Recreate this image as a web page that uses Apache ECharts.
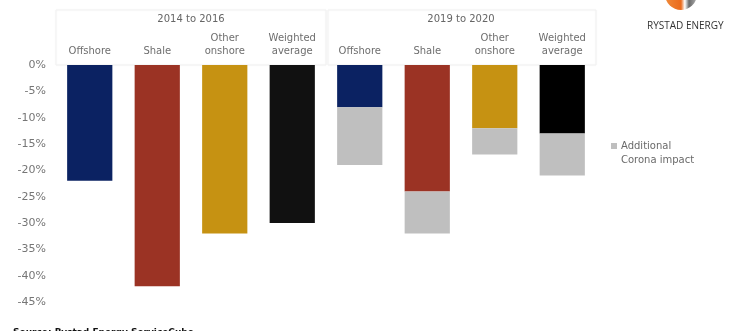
<!DOCTYPE html>
<html>
<head>
<meta charset="utf-8">
<script src="https://cdn.jsdelivr.net/npm/echarts@6/dist/echarts.min.js"></script>
<style>
  html, body { margin: 0; padding: 0; background: #fff; }
  #chart { width: 735px; height: 331px; }
</style>
</head>
<body>
<div id="chart"></div>
<script>
// Segment categories, two per period
const categories = ['Offshore', 'Shale', 'Other\nonshore', 'Weighted\naverage',
                    'Offshore', 'Shale', 'Other\nonshore', 'Weighted\naverage'];
const periods = ['2014 to 2016', '2019 to 2020'];

// Change in capex (%) before the pandemic effect
const baseChange = [-22, -42, -32, -30, -8, -24, -12, -13];
// Extra decline attributed to Corona (only for 2019-2020)
const coronaChange = [null, null, null, null, -11, -8, -5, -8];

const segmentColors = ['#0b2262', '#9b3324', '#c69212', '#111111',
                       '#0b2262', '#9b3324', '#c69212', '#000000'];
const coronaColor = '#bfbfbf';
const yTicks = { min: -45, max: 0, interval: 5 };

const font = 'DejaVu Sans, Verdana, sans-serif';
const chart = echarts.init(document.getElementById('chart'));

chart.setOption({
  animation: false,
  grid: { left: 56, right: 139, top: 65, bottom: 29 },
  legend: {
    data: ['Additional\nCorona impact'],
    left: 606, top: 134,
    // square sits at the top of a taller icon box so it lines up with the first text line
    icon: 'path://M0,0L6,0L6,6L0,6Z M0,20L6,20',
    itemWidth: 6, itemHeight: 20, itemGap: 0,
    textStyle: { color: '#6a6a6a', fontFamily: font, fontSize: 10, lineHeight: 14, padding: [0, 0, 0, -1] }
  },
  xAxis: [
    {
      type: 'category', data: categories, position: 'top',
      axisLine: { show: false }, axisTick: { show: false },
      axisLabel: { color: '#6e6e6e', fontFamily: font, fontSize: 10, lineHeight: 13, margin: 7, interval: 0 }
    },
    {
      type: 'category', data: periods, position: 'top', offset: 32,
      axisLine: { show: false }, axisTick: { show: false },
      axisLabel: { color: '#666666', fontFamily: font, fontSize: 10, margin: 9 }
    }
  ],
  yAxis: {
    type: 'value', min: yTicks.min, max: yTicks.max, interval: yTicks.interval,
    splitLine: { show: false }, axisLine: { show: false }, axisTick: { show: false },
    axisLabel: { color: '#767676', fontFamily: font, fontSize: 11, margin: 10, formatter: '{value}%' }
  },
  graphic: [
    { type: 'rect', z: -10, shape: { x: 56, y: 10, width: 270, height: 55 },
      style: { fill: '#ffffff', stroke: '#f1f1f1', lineWidth: 1, shadowBlur: 2, shadowColor: 'rgba(0,0,0,0.04)' } },
    { type: 'rect', z: -10, shape: { x: 328, y: 10, width: 268, height: 55 },
      style: { fill: '#ffffff', stroke: '#f1f1f1', lineWidth: 1, shadowBlur: 2, shadowColor: 'rgba(0,0,0,0.04)' } },
    { type: 'circle', shape: { cx: 681, cy: -6, r: 16 },
      style: { fill: new echarts.graphic.LinearGradient(0, 0, 1, 0, [
        { offset: 0, color: '#f08a3a' }, { offset: 0.5, color: '#ea6a1c' },
        { offset: 0.62, color: '#ffffff' }, { offset: 0.75, color: '#6a6a6a' }, { offset: 1, color: '#b0b0b0' }]) } },
    { type: 'text', left: 647, top: 21,
      style: { text: 'RYSTAD ENERGY', fill: '#333333', font: '10px "Liberation Sans Narrow", "Open Sans", sans-serif' } },
    { type: 'text', left: 13, top: 328,
      style: { text: 'Source: Rystad Energy ServiceCube', fill: '#111', font: 'bold 9px ' + font } }
  ],
  series: [
    {
      name: 'Base', type: 'bar', stack: 'total', barWidth: '67%',
      data: baseChange.map((v, i) => ({ value: v, itemStyle: { color: segmentColors[i] } }))
    },
    {
      name: 'Additional\nCorona impact', type: 'bar', stack: 'total', barWidth: '67%',
      itemStyle: { color: coronaColor },
      data: coronaChange
    }
  ]
});
</script>
</body>
</html>
